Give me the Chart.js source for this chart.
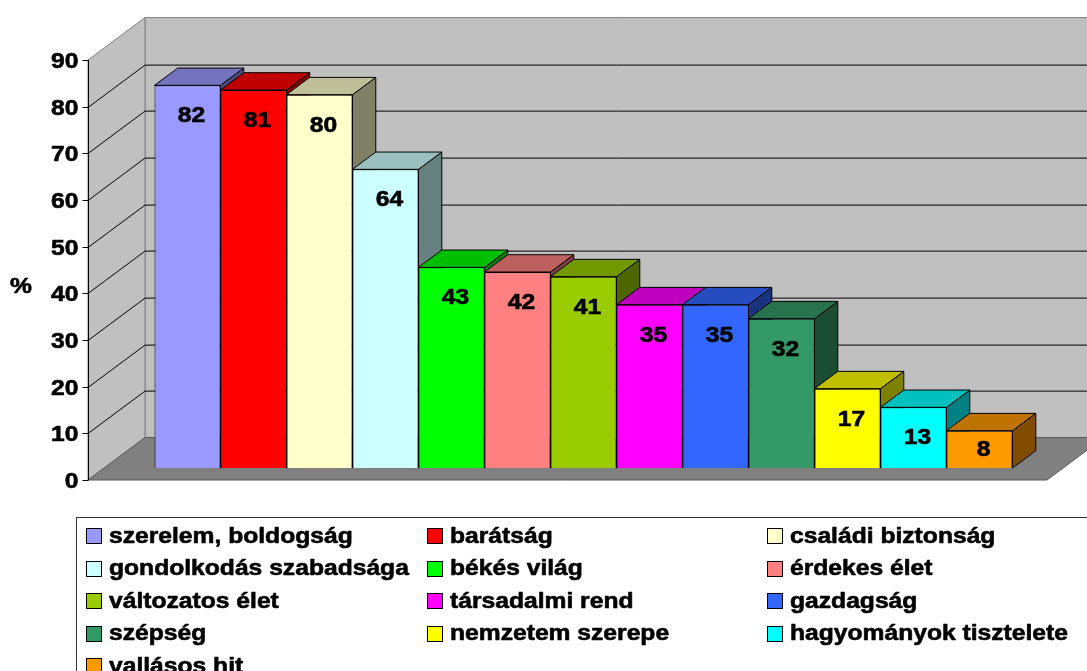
<!DOCTYPE html>
<html>
<head>
<meta charset="utf-8">
<script src="https://cdn.jsdelivr.net/npm/chart.js@4.4.0/dist/chart.umd.min.js"></script>
<style>
  html, body { margin: 0; padding: 0; background: #fff; }
</style>
</head>
<body>
<canvas id="chartBar" width="1087" height="671"></canvas>
<script>
// Data
const labels = [
    'szerelem, boldogság', 'barátság', 'családi biztonság',
    'gondolkodás szabadsága', 'békés világ', 'érdekes élet',
    'változatos élet', 'társadalmi rend', 'gazdagság',
    'szépség', 'nemzetem szerepe', 'hagyományok tisztelete',
    'vallásos hit'
];
const values = [82, 81, 80, 64, 43, 42, 41, 35, 35, 32, 17, 13, 8];
const colors = [
    '#9999FF', '#FF0000', '#FFFFCC', '#CCFFFF', '#00FF00', '#FF8080',
    '#99CC00', '#FF00FF', '#3366FF', '#339966', '#FFFF00', '#00FFFF', '#FF9900'
];
const yTicks = [0, 10, 20, 30, 40, 50, 60, 70, 80, 90];
const yTitle = '%';

// 3D look (pixels)
const WALL_DX = 57, WALL_DY = 42.4;   // depth of the whole box
const BAR_OFF_X = 16, BAR_OFF_Y = 12; // bars sit a bit behind the front plane
const BAR_DX = 23.3, BAR_DY = 17.3;   // depth of a bar
const TEXT_SX = 1.12;                 // text is a bit wider than plain Arial
const FONT = 'bold 22px "Liberation Sans", Arial, sans-serif';

function shade(hex, f) {
    const n = parseInt(hex.slice(1), 16);
    const r = Math.round(((n >> 16) & 255) * f);
    const g = Math.round(((n >> 8) & 255) * f);
    const b = Math.round((n & 255) * f);
    return 'rgb(' + r + ',' + g + ',' + b + ')';
}

function poly(ctx, pts, fill, stroke) {
    ctx.beginPath();
    ctx.moveTo(pts[0][0], pts[0][1]);
    for (let i = 1; i < pts.length; i++) ctx.lineTo(pts[i][0], pts[i][1]);
    ctx.closePath();
    if (fill) { ctx.fillStyle = fill; ctx.fill(); }
    if (stroke) { ctx.strokeStyle = stroke; ctx.lineWidth = 1; ctx.stroke(); }
}

function text(ctx, str, x, y, align) {
    ctx.save();
    ctx.font = FONT;
    ctx.textBaseline = 'middle';
    ctx.textAlign = 'left';
    const w = ctx.measureText(str).width * TEXT_SX;
    let x0 = x;
    if (align === 'right') x0 = x - w;
    else if (align === 'center') x0 = x - w / 2;
    ctx.translate(x0, y);
    ctx.scale(TEXT_SX, 1);
    ctx.fillStyle = '#000';
    ctx.strokeStyle = '#000';
    ctx.lineWidth = 0.6;      // a little heavier, like the original
    ctx.lineJoin = 'round';
    ctx.fillText(str, 0, 0);
    ctx.strokeText(str, 0, 0);
    ctx.restore();
}

const box3d = {
    id: 'box3d',
    beforeDatasetsDraw(chart) {
        const { ctx, chartArea: a } = chart;
        const y = chart.scales.y;
        const y0 = y.getPixelForValue(0);
        const yTop = y.getPixelForValue(90);
        const L = a.left, R = a.right;

        ctx.save();
        // walls and floor
        poly(ctx, [[L + WALL_DX, yTop - WALL_DY], [R + WALL_DX, yTop - WALL_DY],
                   [R + WALL_DX, y0 - WALL_DY], [L + WALL_DX, y0 - WALL_DY]], '#C0C0C0', '#808080');
        poly(ctx, [[L, y0], [L, yTop], [L + WALL_DX, yTop - WALL_DY], [L + WALL_DX, y0 - WALL_DY]],
             '#C0C0C0', '#808080');
        poly(ctx, [[L, y0], [R, y0], [R + WALL_DX, y0 - WALL_DY], [L + WALL_DX, y0 - WALL_DY]],
             '#808080', '#5a5a5a');

        // gridlines
        ctx.strokeStyle = '#000';
        ctx.lineWidth = 1;
        yTicks.forEach(v => {
            if (v === 0 || v === 90) return;
            const py = Math.round(y.getPixelForValue(v)) + 0.5;
            ctx.beginPath();
            ctx.moveTo(L, py);
            ctx.lineTo(L + WALL_DX, py - WALL_DY);
            ctx.lineTo(R + WALL_DX, py - WALL_DY);
            ctx.stroke();
        });

        // value axis
        const ax = Math.round(L) + 0.5;
        ctx.beginPath();
        ctx.moveTo(ax, y0);
        ctx.lineTo(ax, yTop);
        ctx.stroke();
        yTicks.forEach(v => {
            const py = Math.round(y.getPixelForValue(v)) + 0.5;
            ctx.beginPath();
            ctx.moveTo(ax - 6, py);
            ctx.lineTo(ax, py);
            ctx.stroke();
            text(ctx, String(v), ax - 10, py + 1, 'right');
        });
        text(ctx, yTitle, 21, (y0 + yTop) / 2 + 17, 'center');
        ctx.restore();

        // bar tops and sides, then leave ctx shifted for the front faces
        ctx.save();
        ctx.translate(BAR_OFF_X, -BAR_OFF_Y);
        chart.data.datasets.forEach((ds, i) => {
            const bar = chart.getDatasetMeta(i).data[0];
            const l = bar.x - bar.width / 2, r = bar.x + bar.width / 2;
            const t = bar.y, b = bar.base;
            poly(ctx, [[r, t], [r + BAR_DX, t - BAR_DY], [r + BAR_DX, b - BAR_DY], [r, b]],
                 shade(colors[i], 0.5), '#000');
            poly(ctx, [[l, t], [r, t], [r + BAR_DX, t - BAR_DY], [l + BAR_DX, t - BAR_DY]],
                 shade(colors[i], 0.75), '#000');
        });
    },
    afterDatasetsDraw(chart) {
        const { ctx } = chart;
        ctx.restore();
        // value labels on the front faces
        chart.data.datasets.forEach((ds, i) => {
            const bar = chart.getDatasetMeta(i).data[0];
            const h = bar.base - bar.y;
            const cy = bar.y - BAR_OFF_Y + Math.min(31, h / 2 + 1);
            text(ctx, String(values[i]), bar.x + BAR_OFF_X + 4, cy, 'center');
        });
    },
    afterDraw(chart) {
        // legend in three columns
        const { ctx } = chart;
        const colX = [86, 427, 767];
        ctx.save();
        ctx.strokeStyle = '#333';
        ctx.lineWidth = 1;
        ctx.strokeRect(76.5, 517.5, 1100, 200);
        labels.forEach((lab, i) => {
            const cx = colX[i % 3];
            const cy = 535.5 + Math.floor(i / 3) * 32.6;
            const top = Math.round(cy - 7.5) + 0.5;
            ctx.fillStyle = colors[i];
            ctx.fillRect(cx + 0.5, top, 15, 15);
            ctx.strokeStyle = '#000';
            ctx.lineWidth = 1;
            ctx.strokeRect(cx + 0.5, top, 15, 15);
            text(ctx, lab, cx + 23, cy + 1, 'left');
        });
        ctx.restore();
    }
};

const ctxBar = document.getElementById('chartBar').getContext('2d');
const barChart = new Chart(ctxBar, {
    type: 'bar',
    data: {
        labels: [''],
        datasets: labels.map((lab, i) => ({
            label: lab,
            data: [values[i]],
            backgroundColor: colors[i],
            borderColor: '#000',
            borderWidth: 1,
            categoryPercentage: 0.8947,
            barPercentage: 1
        }))
    },
    options: {
        responsive: false,
        animation: false,
        events: [],
        layout: {
            padding: { left: 88, right: 40, top: 60, bottom: 191 }
        },
        plugins: {
            legend: { display: false },
            tooltip: { enabled: false }
        },
        scales: {
            x: { display: false },
            y: { display: false, min: 0, max: 90 }
        }
    },
    plugins: [box3d]
});
</script>
</body>
</html>
